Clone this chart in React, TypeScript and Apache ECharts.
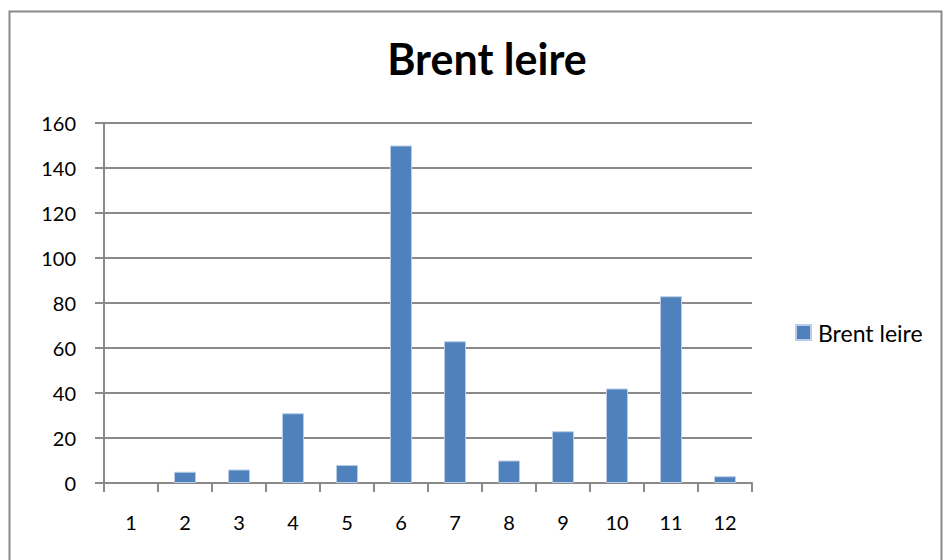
import React, { useEffect, useRef } from "react";
import * as echarts from "echarts";

const categories = ["1", "2", "3", "4", "5", "6", "7", "8", "9", "10", "11", "12"];
const values = [0, 5, 6, 31, 8, 150, 63, 10, 23, 42, 83, 3];
const seriesName = "Brent leire";
const titleText = "Brent leire";

export default function App() {
  const ref = useRef<HTMLDivElement>(null);
  useEffect(() => {
    if (!ref.current) return;
    const chart = echarts.init(ref.current, undefined, { renderer: "svg" });
    const font = "Lato, 'Open Sans', sans-serif";
    chart.setOption({
      animation: false,
      backgroundColor: "#ffffff",
      textStyle: { fontFamily: font },
      title: {
        text: titleText,
        left: 482,
        textAlign: "center",
        top: 32,
        textStyle: { fontSize: 43, fontWeight: "bold", color: "#000", fontFamily: font },
      },
      legend: {
        orient: "vertical",
        left: 795,
        top: 321,
        padding: 0,
        itemWidth: 15,
        itemHeight: 15,
        itemGap: 6,
        icon: "rect",
        textStyle: { fontSize: 23, color: "#000", fontFamily: font, padding: [0, 0, 0, 2] },
        data: [seriesName],
      },
      grid: { left: 104, right: 192, top: 123, bottom: 77, containLabel: false },
      xAxis: {
        type: "category",
        data: categories,
        boundaryGap: true,
        axisLine: { lineStyle: { color: "#8a8a8a", width: 2 } },
        axisTick: { show: true, length: 9, alignWithLabel: false, lineStyle: { color: "#8a8a8a", width: 2 } },
        axisLabel: { fontSize: 20, color: "#000", margin: 29, fontFamily: font },
      },
      yAxis: {
        type: "value",
        min: 0,
        max: 160,
        interval: 20,
        axisLine: { show: true, lineStyle: { color: "#8a8a8a", width: 2 } },
        axisTick: { show: true, length: 9, lineStyle: { color: "#8a8a8a", width: 2 } },
        axisLabel: { fontSize: 20, color: "#000", margin: 28, fontFamily: font },
        splitLine: { lineStyle: { color: "#8a8a8a", width: 2 } },
      },
      series: [
        {
          name: seriesName,
          type: "bar",
          data: values.map((v) => (v === 0 ? { value: v, itemStyle: { borderWidth: 0 } } : v)),
          barWidth: 22,
          itemStyle: { color: "#4f81bd", borderColor: "#b9cde6", borderWidth: 1 },
        },
      ],
      graphic: [
        {
          type: "rect",
          shape: { x: 9.5, y: 11.5, width: 932, height: 600 },
          style: { fill: "none", stroke: "#8a8a8a", lineWidth: 2 },
          silent: true,
        },
      ],
    });
    return () => chart.dispose();
  }, []);
  return (
    <div
      ref={ref}
      style={{ position: "fixed", left: 0, top: 0, width: 944, height: 560 }}
    />
  );
}
